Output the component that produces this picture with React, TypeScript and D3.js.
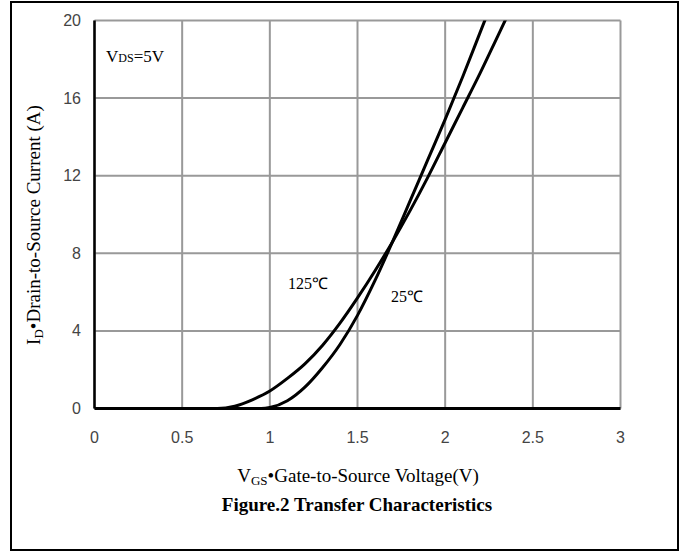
import React from "react";
import * as d3 from "d3";

const xTicks = [0, 0.5, 1, 1.5, 2, 2.5, 3];
const xTickLabels = ["0", "0.5", "1", "1.5", "2", "2.5", "3"];
const yTicks = [0, 4, 8, 12, 16, 20];
const yTickLabels = ["0", "4", "8", "12", "16", "20"];

// 125°C curve (VGS, ID)
const vgs125 = [0, 0.7, 0.8, 0.9, 1.0, 1.1, 1.2, 1.3, 1.4, 1.5, 1.6, 1.7, 1.8, 1.9, 2.0, 2.1, 2.2, 2.3, 2.4];
const id125 = [0, 0, 0.12, 0.45, 0.9, 1.55, 2.3, 3.25, 4.4, 5.7, 7.1, 8.6, 10.2, 11.9, 13.7, 15.5, 17.3, 19.2, 21.1];
// 25°C curve
const vgs25 = [0, 0.95, 1.0, 1.1, 1.2, 1.3, 1.4, 1.5, 1.6, 1.7, 1.8, 1.9, 2.0, 2.1, 2.2, 2.3];
const id25 = [0, 0, 0.05, 0.4, 1.1, 2.1, 3.3, 4.8, 6.6, 8.6, 10.7, 12.8, 14.9, 17.1, 19.4, 21.7];

const seriesLabels = ["125℃", "25℃"];

export default function App() {
  const x = d3.scaleLinear().domain([0, 3]).range([94.5, 620.5]);
  const y = d3.scaleLinear().domain([0, 20]).range([408.5, 20.5]);

  const mk = (xs: number[], ys: number[]) => {
    const pts = xs.map((v, i) => [v, ys[i]] as [number, number]);
    return d3
      .line<[number, number]>()
      .x((d) => x(d[0]))
      .y((d) => y(d[1]))
      .curve(d3.curveMonotoneX)(pts) as string;
  };
  const p125 = mk(vgs125, id125);
  const p25 = mk(vgs25, id25);

  const serif = "'Liberation Serif', 'Times New Roman', serif";
  const sans = "'Liberation Sans', Arial, sans-serif";
  const grid = "#999";

  return (
    <svg
      width={686}
      height={552}
      style={{ position: "absolute", left: 0, top: 0, display: "block", background: "#fff" }}
    >
      <rect x={0} y={0} width={686} height={552} fill="#fff" />
      <rect x={11} y={2} width={667} height={548} fill="none" stroke="#000" strokeWidth={2} />
      <defs>
        <clipPath id="plotclip">
          <rect x={x(0)} y={y(20)} width={x(3) - x(0)} height={y(0) - y(20)} />
        </clipPath>
      </defs>
      {xTicks.map((t) => (
        <line key={"gx" + t} x1={x(t)} x2={x(t)} y1={y(0)} y2={y(20)} stroke={grid} strokeWidth={2} />
      ))}
      {yTicks.map((t) => (
        <line key={"gy" + t} x1={x(0)} x2={x(3)} y1={y(t)} y2={y(t)} stroke={grid} strokeWidth={2} />
      ))}
      <line x1={x(0)} x2={x(0)} y1={y(20)} y2={y(0)} stroke="#000" strokeWidth={2.5} />
      <g clipPath="url(#plotclip)">
        <path d={p125} fill="none" stroke="#000" strokeWidth={3} />
        <path d={p25} fill="none" stroke="#000" strokeWidth={3} />
      </g>
      <line x1={x(0)} x2={x(3)} y1={y(0)} y2={y(0)} stroke="#000" strokeWidth={3} />
      {xTicks.map((t, i) => (
        <text key={"tx" + t} x={x(t)} y={443} textAnchor="middle" fontFamily={sans} fontSize={16} fill="#444">
          {xTickLabels[i]}
        </text>
      ))}
      {yTicks.map((t, i) => (
        <text key={"ty" + t} x={81} y={y(t) + 5.5} textAnchor="end" fontFamily={sans} fontSize={16} fill="#444">
          {yTickLabels[i]}
        </text>
      ))}
      <text x={106} y={62} fontFamily={serif} fontSize={17} fill="#000">
        V<tspan fontSize={12}>DS</tspan>=5V
      </text>
      <text x={288} y={289} fontFamily={serif} fontSize={16} fill="#000">
        {seriesLabels[0]}
      </text>
      <text x={391} y={302} fontFamily={serif} fontSize={16} fill="#000">
        {seriesLabels[1]}
      </text>
      <text x={358} y={482} textAnchor="middle" fontFamily={serif} fontSize={19} fill="#000">
        V<tspan fontSize={13} dy={3}>GS</tspan>
        <tspan dy={-3}>•Gate-to-Source Voltage(V)</tspan>
      </text>
      <text x={357} y={511} textAnchor="middle" fontFamily={serif} fontSize={19} fontWeight="bold" fill="#000">
        Figure.2 Transfer Characteristics
      </text>
      <text
        transform="translate(40,225) rotate(-90)"
        textAnchor="middle"
        fontFamily={serif}
        fontSize={19}
        fill="#000"
      >
        I<tspan fontSize={13} dy={3}>D</tspan>
        <tspan dy={-3}>•Drain-to-Source Current (A)</tspan>
      </text>
    </svg>
  );
}
